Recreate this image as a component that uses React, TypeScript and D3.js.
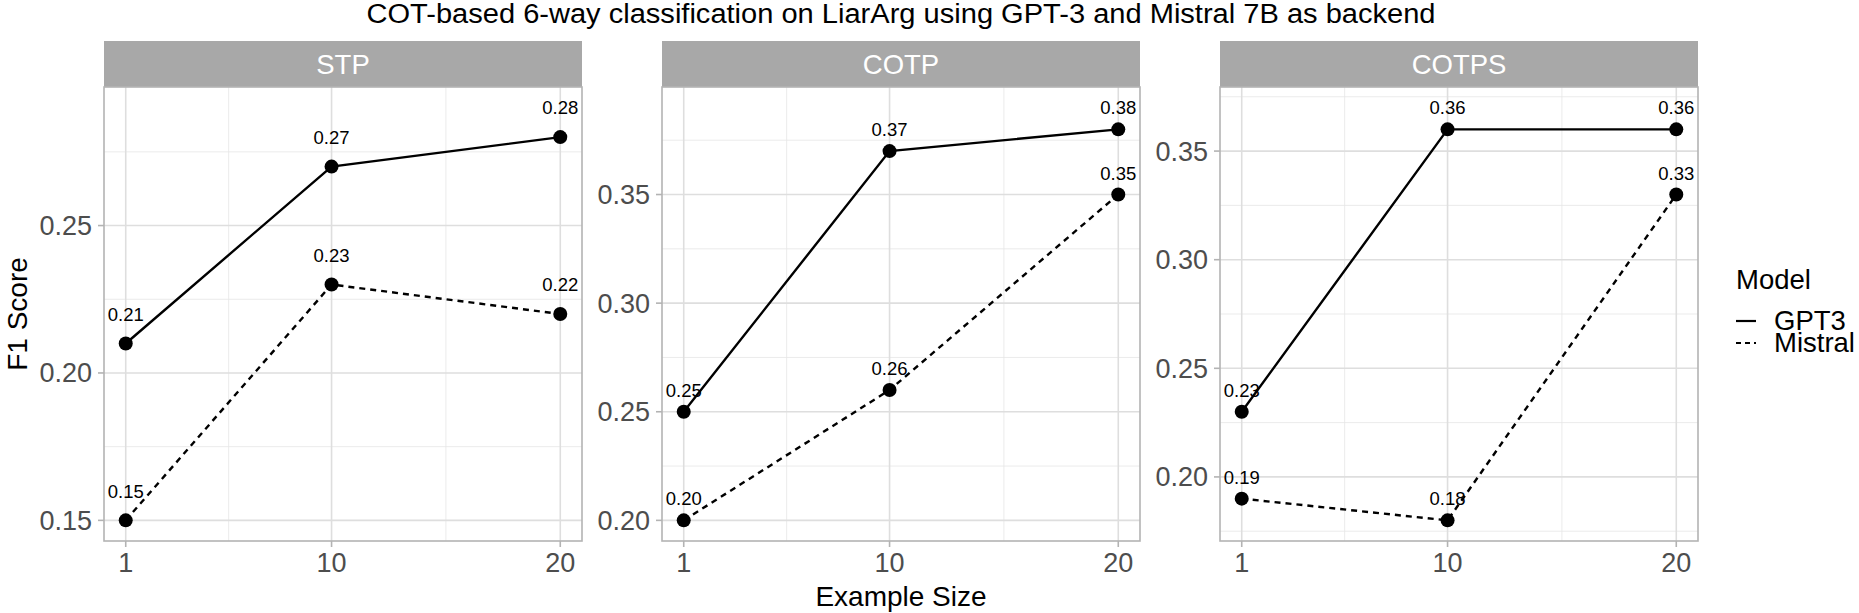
import React from 'react';
import * as d3 from 'd3';

// data
const exampleSizes = [1, 10, 20];
const panelNames = ['STP', 'COTP', 'COTPS'];
const modelNames = ['GPT3', 'Mistral'];

const stpGpt3 = [0.21, 0.27, 0.28];
const stpMistral = [0.15, 0.23, 0.22];
const cotpGpt3 = [0.25, 0.37, 0.38];
const cotpMistral = [0.2, 0.26, 0.35];
const cotpsGpt3 = [0.23, 0.36, 0.36];
const cotpsMistral = [0.19, 0.18, 0.33];

const stpTicks = [0.15, 0.2, 0.25];
const cotpTicks = [0.2, 0.25, 0.3, 0.35];
const cotpsTicks = [0.2, 0.25, 0.3, 0.35];
const xTicks = [1, 10, 20];
const xMinor = [5.5, 15];

const labelNudge = 0.01;

const W = 1859,
  H = 613;
const font = "'Liberation Sans', Arial, Helvetica, sans-serif";
const panelLeft = [104, 662, 1220];
const panelWidth = 478;
const stripTop = 41,
  panelTop = 87,
  panelBottom = 541;

const series = [
  { panel: 'STP', ticks: stpTicks, values: [stpGpt3, stpMistral] },
  { panel: 'COTP', ticks: cotpTicks, values: [cotpGpt3, cotpMistral] },
  { panel: 'COTPS', ticks: cotpsTicks, values: [cotpsGpt3, cotpsMistral] },
];

const dashFor = (m: string) => (m === 'Mistral' ? '6,5' : undefined);

const Panel = ({ idx }: { idx: number }) => {
  const s = series[idx];
  const left = panelLeft[idx];
  const x = d3
    .scaleLinear()
    .domain([1 - 0.05 * 19, 20 + 0.05 * 19])
    .range([left, left + panelWidth]);
  const all = s.values.flat();
  const lo = d3.min(all) as number;
  const hi = (d3.max(all) as number) + labelNudge;
  const pad = (hi - lo) * 0.05;
  const y = d3
    .scaleLinear()
    .domain([lo - pad, hi + pad])
    .range([panelBottom, panelTop]);
  // minor grid halfway between the major breaks
  const minor: number[] = [];
  for (let v = s.ticks[0] - 0.025; v < hi + pad; v += 0.05) {
    if (v > lo - pad) minor.push(v);
  }
  const line = d3
    .line<number>()
    .x((_, i) => x(exampleSizes[i]))
    .y((d) => y(d));

  return (
    <g>
      <rect x={left} y={stripTop} width={panelWidth} height={panelTop - stripTop} fill="#a8a8a8" />
      <text
        x={left + panelWidth / 2}
        y={(stripTop + panelTop) / 2 + 10}
        textAnchor="middle"
        fill="#ffffff"
        fontSize={27.5}
      >
        {panelNames[idx]}
      </text>
      {minor.map((v) => (
        <line key={'my' + v} x1={left} x2={left + panelWidth} y1={y(v)} y2={y(v)} stroke="#e6e6e6" strokeWidth={0.8} />
      ))}
      {xMinor.map((v) => (
        <line key={'mx' + v} x1={x(v)} x2={x(v)} y1={panelTop} y2={panelBottom} stroke="#e6e6e6" strokeWidth={0.8} />
      ))}
      {s.ticks.map((v) => (
        <line key={'gy' + v} x1={left} x2={left + panelWidth} y1={y(v)} y2={y(v)} stroke="#dedede" strokeWidth={1.6} />
      ))}
      {xTicks.map((v) => (
        <line key={'gx' + v} x1={x(v)} x2={x(v)} y1={panelTop} y2={panelBottom} stroke="#dedede" strokeWidth={1.6} />
      ))}
      <rect x={left} y={panelTop} width={panelWidth} height={panelBottom - panelTop} fill="none" stroke="#b3b3b3" strokeWidth={1.6} />
      {s.ticks.map((v) => (
        <g key={'ty' + v}>
          <line x1={left - 6} x2={left} y1={y(v)} y2={y(v)} stroke="#b3b3b3" strokeWidth={1.6} />
          <text x={left - 12} y={y(v) + 9.5} textAnchor="end" fill="#4d4d4d" fontSize={27}>
            {d3.format('.2f')(v)}
          </text>
        </g>
      ))}
      {xTicks.map((v) => (
        <g key={'tx' + v}>
          <line x1={x(v)} x2={x(v)} y1={panelBottom} y2={panelBottom + 6} stroke="#b3b3b3" strokeWidth={1.6} />
          <text x={x(v)} y={572} textAnchor="middle" fill="#4d4d4d" fontSize={27}>
            {v}
          </text>
        </g>
      ))}
      {s.values.map((vals, m) => (
        <path key={'l' + m} d={line(vals) ?? ''} fill="none" stroke="#000" strokeWidth={2.4} strokeDasharray={dashFor(modelNames[m])} />
      ))}
      {s.values.map((vals, m) =>
        vals.map((v, i) => <circle key={'p' + m + i} cx={x(exampleSizes[i])} cy={y(v)} r={7} fill="#000" />),
      )}
      {s.values.map((vals, m) =>
        vals.map((v, i) => (
          <text
            key={'t' + m + i}
            x={x(exampleSizes[i])}
            y={y(v + labelNudge) + 6.7}
            textAnchor="middle"
            fill="#000"
            fontSize={18.5}
          >
            {d3.format('.2f')(v)}
          </text>
        )),
      )}
    </g>
  );
};

const App = () => {
  return (
    <div style={{ position: 'absolute', left: 0, top: 0 }}>
      <svg width={W} height={H} style={{ display: 'block', fontFamily: font }}>
        <rect width={W} height={H} fill="#fff" />
        <text
          x={901}
          y={23}
          textAnchor="middle"
          fontSize={27}
          fill="#000"
          textLength={1069}
          lengthAdjust="spacingAndGlyphs"
        >
          COT-based 6-way classification on LiarArg using GPT-3 and Mistral 7B as backend
        </text>
        {panelNames.map((_, i) => (
          <Panel key={i} idx={i} />
        ))}
        <text x={17} y={314} transform="rotate(-90,17,314)" dy={10} textAnchor="middle" fontSize={28} fill="#000">
          F1 Score
        </text>
        <text x={901} y={606} textAnchor="middle" fontSize={28} fill="#000">
          Example Size
        </text>
        <text x={1736} y={289} fontSize={27.5} fill="#000">
          Model
        </text>
        {modelNames.map((m, i) => (
          <g key={m}>
            <line
              x1={1736}
              x2={1756}
              y1={321 + i * 22}
              y2={321 + i * 22}
              stroke="#000"
              strokeWidth={2.2}
              strokeDasharray={m === 'Mistral' ? '5,4' : undefined}
            />
            <text x={1774} y={330 + i * 22} fontSize={27.5} fill="#000">
              {m}
            </text>
          </g>
        ))}
      </svg>
    </div>
  );
};

export default App;
